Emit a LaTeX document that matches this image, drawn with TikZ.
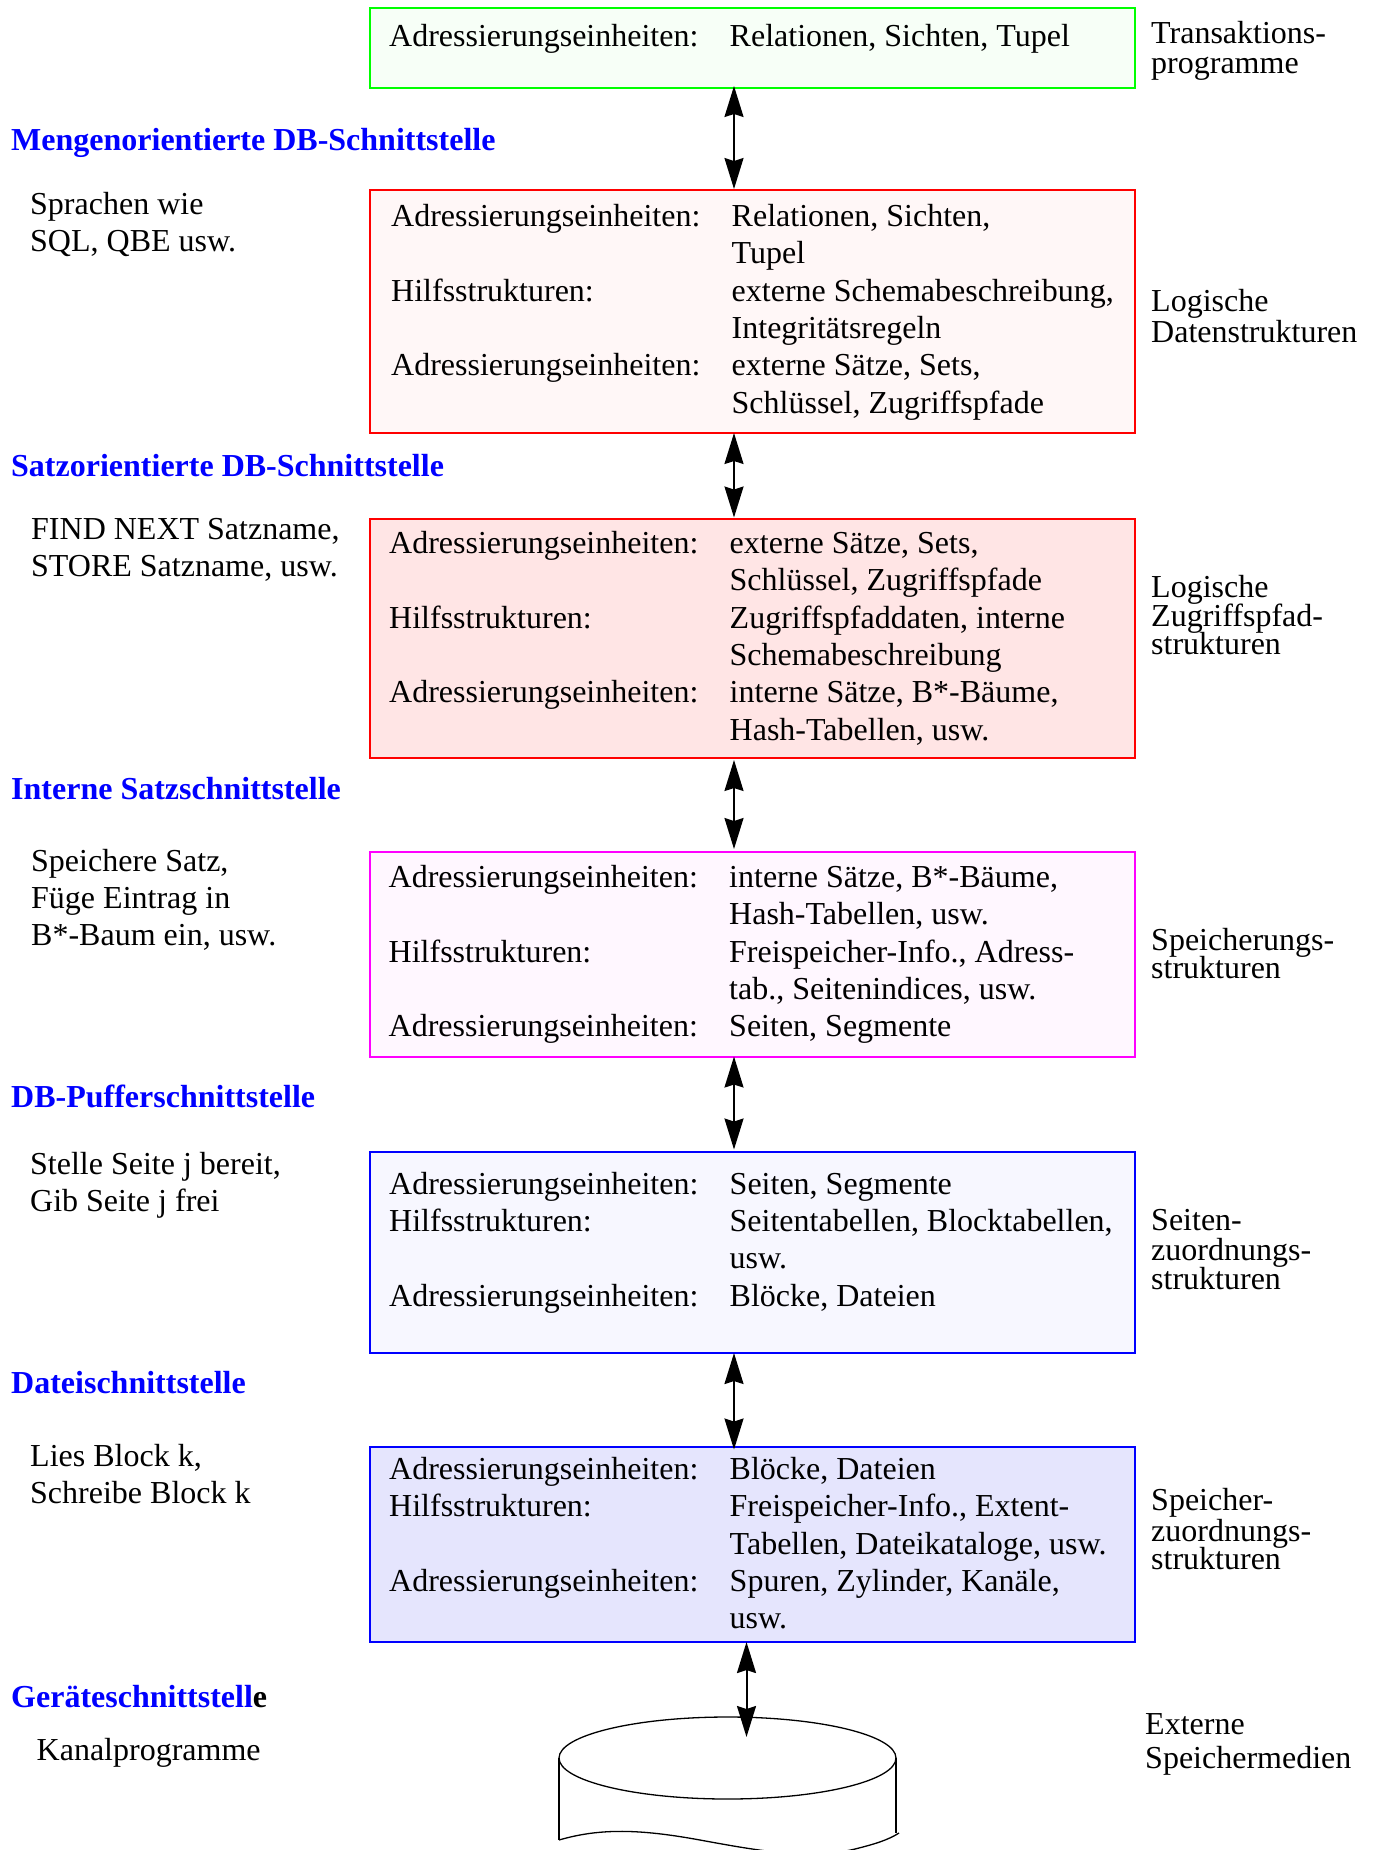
\documentclass[tikz,border=0pt]{standalone}
\usepackage{fontspec}
\usepackage{array}
\setmainfont{Liberation Serif}
\usetikzlibrary{arrows.meta,shapes.geometric}
\newcommand{\rowsT}[1]{\begin{tabular}[t]{@{}p{340.5pt}@{}l@{}}#1\end{tabular}}
\newcommand{\linesT}[1]{\begin{tabular}[t]{@{}l@{}}#1\end{tabular}}
\newcommand{\stackT}[1]{\vtop{\lineskiplimit=-100pt\baselineskip=28pt\halign{##\hfil\cr#1\crcr}}}
\newcommand{\gapT}[1]{\cr\noalign{\vskip #1pt}}
\tikzset{
  layerbox/.style={draw,line width=2pt,anchor=north west,minimum width=765pt,outer sep=0pt,inner sep=0pt},
  rowtext/.style={anchor=base west,inner sep=0pt,font=\fontsize{32}{37.35}\selectfont},
  lefttext/.style={anchor=base west,inner sep=0pt,font=\fontsize{32}{37}\selectfont},
  righttext/.style={anchor=base west,inner sep=0pt,font=\fontsize{32}{28}\selectfont},
  heading/.style={anchor=base west,inner sep=0pt,text=blue,font=\fontsize{32}{37}\selectfont\bfseries},
  link/.style={line width=2pt,{Stealth[length=31pt,width=19pt,inset=3pt]}-{Stealth[length=31pt,width=19pt,inset=3pt]}}
}
\begin{document}
\begin{tikzpicture}[x=1pt,y=-1pt]
\path[use as bounding box] (0,0) rectangle (1373,1850);
\coordinate (axis) at (734,0);
\coordinate (axisb) at (746.5,0);

\node[layerbox,draw={rgb,255:red,0;green,255;blue,0},fill={rgb,255:red,247;green,255;blue,247},minimum height=80pt] (b1) at (370,8) {};
\node[layerbox,draw=red,fill={rgb,255:red,255;green,247;blue,247},minimum height=243pt] (b2) at (370,190) {};
\node[layerbox,draw=red,fill={rgb,255:red,255;green,229;blue,229},minimum height=239pt] (b3) at (370,519) {};
\node[layerbox,draw={rgb,255:red,255;green,0;blue,255},fill={rgb,255:red,255;green,247;blue,255},minimum height=205pt] (b4) at (370,851.5) {};
\node[layerbox,draw=blue,fill={rgb,255:red,247;green,247;blue,255},minimum height=201pt] (b5) at (370,1152) {};
\node[layerbox,draw=blue,fill={rgb,255:red,229;green,229;blue,253},minimum height=195pt] (b6) at (370,1447) {};

\node[rowtext] (t1) at (389,46) {\rowsT{Adressierungseinheiten: & Relationen, Sichten, Tupel\\}};
\node[rowtext] (t2) at (391,226.5) {\rowsT{Adressierungseinheiten: & Relationen, Sichten,\\ & Tupel\\ Hilfsstrukturen: & externe Schemabeschreibung,\\ & Integritätsregeln\\ Adressierungseinheiten: & externe Sätze, Sets,\\ & Schlüssel, Zugriffspfade\\}};
\node[rowtext] (t3) at (389,553.5) {\rowsT{Adressierungseinheiten: & externe Sätze, Sets,\\ & Schlüssel, Zugriffspfade\\ Hilfsstrukturen: & Zugriffspfaddaten, interne\\ & Schemabeschreibung\\ Adressierungseinheiten: & interne Sätze, B*-Bäume,\\ & Hash-Tabellen, usw.\\}};
\node[rowtext] (t4) at (388.5,887.5) {\rowsT{Adressierungseinheiten: & interne Sätze, B*-Bäume,\\ & Hash-Tabellen, usw.\\ Hilfsstrukturen: & Freispeicher-Info., Adress-\\ & tab., Seitenindices, usw.\\ Adressierungseinheiten: & Seiten, Segmente\\}};
\node[rowtext] (t5) at (389,1194) {\rowsT{Adressierungseinheiten: & Seiten, Segmente\\ Hilfsstrukturen: & Seitentabellen, Blocktabellen,\\ & usw.\\ Adressierungseinheiten: & Blöcke, Dateien\\}};
\node[rowtext] (t6) at (389,1479.5) {\rowsT{Adressierungseinheiten: & Blöcke, Dateien\\ Hilfsstrukturen: & Freispeicher-Info., Extent-\\ & Tabellen, Dateikataloge, usw.\\ Adressierungseinheiten: & Spuren, Zylinder, Kanäle,\\ & usw.\\}};

\node[heading] (h1) at (11,150) {Mengenorientierte DB-Schnittstelle};
\node[heading] (h2) at (11,476) {Satzorientierte DB-Schnittstelle};
\node[heading] (h3) at (11,799) {Interne Satzschnittstelle};
\node[heading] (h4) at (11,1107) {DB-Pufferschnittstelle};
\node[heading] (h5) at (11,1393) {Dateischnittstelle};
\node[heading] (h6) at (11,1707) {Geräteschnittstell\textcolor{black}{e}};

\node[lefttext] (l1) at (30,214) {\linesT{Sprachen wie\\SQL, QBE usw.}};
\node[lefttext] (l2) at (31,539.5) {\linesT{FIND NEXT Satzname,\\STORE Satzname, usw.}};
\node[lefttext] (l3) at (31,871) {\linesT{Speichere Satz,\\Füge Eintrag in\\B*-Baum ein, usw.}};
\node[lefttext] (l4) at (30,1174) {\linesT{Stelle Seite j bereit,\\Gib Seite j frei}};
\node[lefttext] (l5) at (30,1466) {\linesT{Lies Block k,\\Schreibe Block k}};
\node[lefttext] (l6) at (36.5,1760) {Kanalprogramme};

\node[righttext] (r1) at (1151,43) {\stackT{Transaktions-\gapT{2.6}programme}};
\node[righttext] (r2) at (1151,311) {\stackT{Logische\gapT{3.4}Datenstrukturen}};
\node[righttext] (r3) at (1151,597) {\stackT{Logische\gapT{1}Zugriffspfad-\gapT{0.5}strukturen}};
\node[righttext] (r4) at (1151,950) {\stackT{Speicherungs-\gapT{0.5}strukturen}};
\node[righttext] (r5) at (1151,1230) {\stackT{Seiten-\gapT{2.6}zuordnungs-\gapT{0.5}strukturen}};
\node[righttext] (r6) at (1151,1510) {\stackT{Speicher-\gapT{3.5}zuordnungs-\gapT{0}strukturen}};
\node[righttext] (r7) at (1145,1734) {\stackT{Externe\gapT{6}Speichermedien}};

\draw[link,shorten <=-2pt,shorten >=1pt] (b1.south -| axis) -- (b2.north -| axis);
\draw[link,shorten >=1.5pt] (b2.south -| axis) -- (b3.north -| axis);
\draw[link,shorten <=2pt,shorten >=2.5pt] (b3.south -| axis) -- (b4.north -| axis);
\draw[link,shorten >=2.5pt] (b4.south -| axis) -- (b5.north -| axis);
\draw[link,shorten >=-2.5pt] (b5.south -| axis) -- (b6.north -| axis);

\node[ellipse,draw,line width=1.3pt,minimum width=337pt,minimum height=82pt,inner sep=0pt,outer sep=0pt] (disk) at (727.5,1758) {};
\coordinate (disktop) at (746.5,1737);
\draw[link] (b6.south -| axisb) -- (disktop);
\coordinate (wl) at (559,1840);
\coordinate (wr) at (899,1833);
\draw[line width=2pt] (disk.west) -- (wl);
\draw[line width=2pt] (disk.east) -- (896,1833);
\draw[line width=1.3pt] (wl) .. controls (600,1828) and (640,1829) .. (700,1840) .. controls (760,1851) and (810,1860) .. (855,1849) .. controls (875,1844) and (888,1840) .. (wr);
\end{tikzpicture}
\end{document}
